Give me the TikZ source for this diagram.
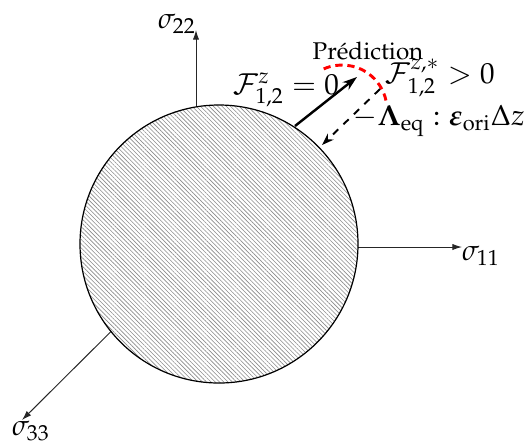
\documentclass[tikz,border=0pt]{standalone}
\usepackage[T1]{fontenc}
\usepackage{mathpazo}
\usepackage{amsmath}
\usetikzlibrary{arrows.meta, patterns.meta}

\tikzset{
  axis/.style={draw=black!85, line width=0.4pt, -{Latex[length=4pt,width=2.6pt]}},
  lab/.style={font=\large},
  surface/.style={draw=black, line width=0.5pt, preaction={fill=white},
    pattern={Lines[angle=-45, distance=1.25pt, line width=0.25pt]}, pattern color=black!45},
  flux/.style={line width=1pt, -{Stealth[length=6pt,width=4pt]}},
  corr/.style={dashed, line width=0.8pt, -{Stealth[length=5pt,width=3.5pt]}},
  predarc/.style={red, line width=1.2pt, dash pattern=on 3pt off 2pt}
}

\begin{document}
\begin{tikzpicture}[x=0.413pt, y=-0.413pt]
  \useasboundingbox (0,0) rectangle (525,445);
  % axes
  \coordinate (O) at (196,247);
  \coordinate (s11) at (462,247);
  \coordinate (s22) at (196,30);
  \coordinate (s33) at (22,420);
  \draw[axis] (O) -- (s11);
  \draw[axis] (O) -- (s22);
  \draw[axis] (O) -- (s33);
  \node[lab] (s11lab) at (481,256) {$\sigma_{11}$};
  \node[lab] (s22lab) at (177,24) {$\sigma_{22}$};
  \node[lab] (s33lab) at (31,431) {$\sigma_{33}$};
  % yield surface
  \draw[surface] (219,244) circle (139);
  % prediction
  \coordinate (P0) at (323.7,68.9);
  \draw[predarc] (P0) arc[start angle=-114, end angle=-11, radius=45];
  \node (pred) at (368,51) {Pr\'ediction};
  % trial flux and correction
  \coordinate (F0) at (295,126);
  \coordinate (F1) at (357,77);
  \coordinate (L0) at (380,89);
  \coordinate (L1) at (322,145);
  \draw[flux] (F0) -- (F1);
  \draw[corr] (L0) -- (L1);
  \node[lab] (Fzero) at (286,90) {$\mathcal{F}^{z}_{1,2} = 0$};
  \node[lab] (Fstar) at (440,78) {$\mathcal{F}^{z,*}_{1,2} > 0$};
  \node[lab] (Lam) at (439,121) {$-\boldsymbol{\Lambda}_{\mathrm{eq}} : \boldsymbol{\varepsilon}_{\mathrm{ori}}\Delta z$};
\end{tikzpicture}
\end{document}
